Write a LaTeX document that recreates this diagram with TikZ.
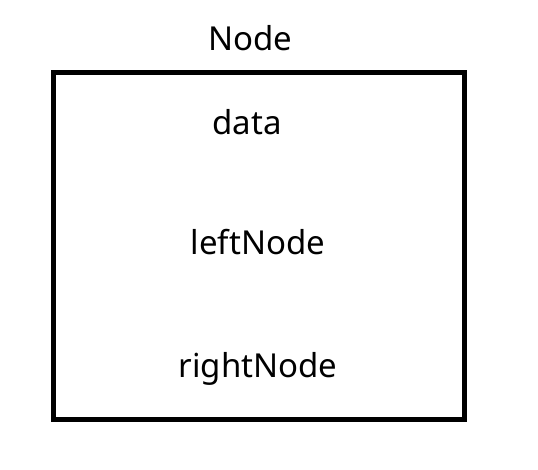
\documentclass[tikz,border=0pt]{standalone}
\usepackage{fontspec}
\setmainfont{Noto Sans}
\begin{document}
\begin{tikzpicture}[x=1pt,y=-1pt,
  lbl/.style={font=\fontsize{33}{38}\selectfont, inner sep=0pt, anchor=base},
  frame/.style={draw=black, line width=5pt}]
\useasboundingbox (0,0) rectangle (538,470);
\node[frame, minimum width=411pt, minimum height=347pt, inner sep=0pt] (box) at (259,246) {};
\node[lbl] (title) at (250,51) {Node};
\node[lbl] (data) at (247,135) {data};
\node[lbl] (left) at (258,255) {leftNode};
\node[lbl] (right) at (258,377) {rightNode};
\end{tikzpicture}
\end{document}
